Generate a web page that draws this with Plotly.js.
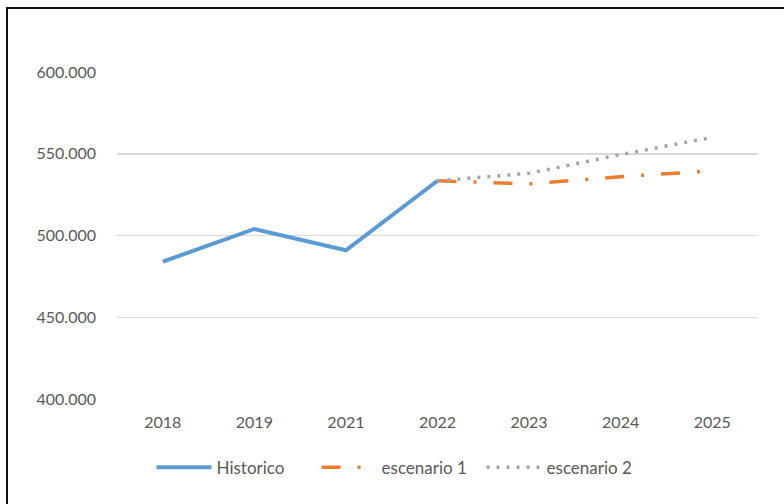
<!DOCTYPE html>
<html>
<head>
<meta charset="utf-8">
<script src="https://cdn.plot.ly/plotly-3.0.1.min.js"></script>
<style>
  html, body { margin: 0; padding: 0; background: #fff; }
  #wrap { position: relative; width: 784px; height: 504px; overflow: hidden; }
  #chart { position: absolute; left: 0; top: 0; width: 784px; height: 504px; }
  /* chart frame: only its top and left edges fall inside the view */
  #frame { position: absolute; left: 6px; top: 7px; width: 800px; height: 520px;
           border-left: 2px solid #111; border-top: 2px solid #111; pointer-events: none; }
</style>
</head>
<body>
<div id="wrap">
  <div id="chart"></div>
  <div id="frame"></div>
</div>
<script>
// categories on the x axis
const years = ['2018', '2019', '2021', '2022', '2023', '2024', '2025'];

// historical series
const historicoYears = ['2018', '2019', '2021', '2022'];
const historico = [484000, 504000, 491000, 533500];

// projection scenarios, starting from the last historical point
const escenarioYears = ['2022', '2023', '2024', '2025'];
const escenario1 = [533500, 531500, 536000, 539500];
const escenario2 = [533500, 538000, 549500, 560000];

const yTicks = [400000, 450000, 500000, 550000, 600000];

const textColor = '#595959';
const font = { family: 'Lato, "Open Sans", sans-serif', size: 16, color: textColor };
const legendFont = { family: 'Lato, "Open Sans", sans-serif', size: 17, color: textColor };

const traces = [
  {
    x: historicoYears, y: historico, name: 'Historico', type: 'scatter', mode: 'lines',
    line: { color: '#5b9bd5', width: 4 }
  },
  {
    x: escenarioYears, y: escenario1, name: 'escenario 1', type: 'scatter', mode: 'lines',
    line: { color: '#ed7d31', width: 3.5, dash: '19px,17px,3px,17px' }
  },
  {
    x: escenarioYears, y: escenario2, name: 'escenario 2', type: 'scatter', mode: 'lines',
    line: { color: '#a5a5a5', width: 3.5, dash: '3px,7px' }
  }
];

const layout = {
  width: 784, height: 504,
  margin: { l: 117, r: 26, t: 72, b: 105, pad: 0 },
  paper_bgcolor: '#ffffff', plot_bgcolor: '#ffffff',
  separators: ',.',
  font: font,
  showlegend: true,
  legend: {
    orientation: 'h', x: 0.44, xanchor: 'center', y: -0.21, yanchor: 'middle',
    font: legendFont, entrywidth: 95, itemwidth: 55, traceorder: 'normal'
  },
  xaxis: {
    type: 'category', categoryorder: 'array', categoryarray: years,
    range: [-0.5, years.length - 0.5],
    showgrid: false, zeroline: false, showline: false, ticks: '',
    ticklabelstandoff: 12, tickfont: font, fixedrange: true
  },
  yaxis: {
    range: [400000, 600000], tickvals: yTicks, tickformat: ',.0f',
    showgrid: true, gridcolor: '#d9d9d9', gridwidth: 1.5,
    zeroline: false, showline: false, ticks: '',
    ticklabelstandoff: 20, tickfont: font, fixedrange: true
  }
};

Plotly.newPlot('chart', traces, layout, { displayModeBar: false, staticPlot: true });
</script>
</body>
</html>
